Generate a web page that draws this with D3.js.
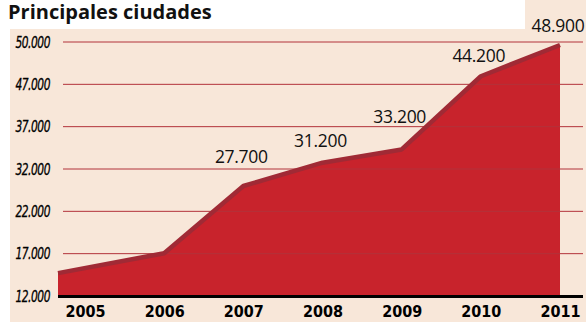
<!DOCTYPE html>
<html>
<head>
<meta charset="utf-8">
<script src="https://cdn.jsdelivr.net/npm/d3@7/dist/d3.min.js"></script>
<style>
  html, body { margin: 0; padding: 0; background: #ffffff; }
  svg { display: block; }
</style>
</head>
<body>
<script>
// Population of the main cities, 2005–2011
const years = ["2005", "2006", "2007", "2008", "2009", "2010", "2011"];
const values = [14600, 17600, 27700, 31200, 33200, 44200, 48900];
// Values that carry a printed label (2005 and 2006 are unlabeled)
const labeledYears = ["2007", "2008", "2009", "2010", "2011"];
// Printed y-axis labels, top to bottom
const tickLabels = ["50.000", "47.000", "37.000", "32.000", "22.000", "17.000", "12.000"];

const W = 586, H = 322;
const fmt = d3.format(",");
const esNum = v => fmt(v).replace(/,/g, ".");

const svg = d3.select("body").append("svg")
  .attr("width", W).attr("height", H);

// Panel background with a tab at the top right for the last label
const bg = "#f8e7d9";
svg.append("rect").attr("x", 10).attr("y", 29).attr("width", W - 10).attr("height", H - 29).attr("fill", bg);
svg.append("rect").attr("x", 525).attr("y", 0).attr("width", W - 525).attr("height", 30).attr("fill", bg);

// Title
svg.append("text")
  .attr("x", 8).attr("y", 19)
  .attr("font-family", "'Open Sans', sans-serif")
  .attr("font-weight", 700)
  .attr("font-size", 20)
  .attr("fill", "#111")
  .text("Principales ciudades");

const plotLeft = 58, plotRight = 583, plotTop = 42, plotBottom = 296;

// Scales
const x = d3.scalePoint().domain(years).range([85, 560]);
const y = d3.scaleLinear().domain([11160, 49350]).range([plotBottom, plotTop]);
const gridY = d3.scalePoint().domain(tickLabels).range([plotTop, plotBottom]);

const data = years.map((yr, i) => ({ year: yr, value: values[i] }));
// The series begins at the left edge of the plot
const px = (d, i) => i === 0 ? plotLeft : x(d.year);

// Filled area
svg.append("path")
  .datum(data)
  .attr("fill", "#c8232c")
  .attr("d", d3.area().x(px).y0(plotBottom).y1(d => y(d.value)));

// Gridlines
svg.append("g")
  .selectAll("line")
  .data(tickLabels)
  .join("line")
  .attr("x1", 63).attr("x2", plotRight)
  .attr("y1", d => gridY(d)).attr("y2", d => gridY(d))
  .attr("stroke", "#b2323a")
  .attr("stroke-width", 1);

// Top edge line
svg.append("path")
  .datum(data)
  .attr("fill", "none")
  .attr("stroke", "#a02a35")
  .attr("stroke-width", 4.5)
  .attr("stroke-linejoin", "round")
  .attr("d", d3.line().x(px).y(d => y(d.value)));

// Baseline
svg.append("line")
  .attr("x1", plotLeft).attr("x2", plotRight)
  .attr("y1", plotBottom + 0.5).attr("y2", plotBottom + 0.5)
  .attr("stroke", "#000").attr("stroke-width", 3);

// Y labels (condensed italic)
svg.append("g")
  .selectAll("text")
  .data(tickLabels)
  .join("text")
  .attr("transform", d => `translate(50,${gridY(d) + 5.5}) scale(0.74,1)`)
  .attr("text-anchor", "end")
  .attr("font-family", "'DejaVu Sans Condensed', 'Liberation Sans Narrow', sans-serif")
  .attr("font-style", "italic")
  .attr("font-size", 16)
  .attr("letter-spacing", -0.6)
  .attr("fill", "#000")
  .attr("stroke", "#000")
  .attr("stroke-width", 0.3)
  .text(d => d);

// X labels
const xAxis = svg.append("g")
  .attr("transform", `translate(0,${plotBottom + 2})`)
  .call(d3.axisBottom(x).tickSize(0).tickPadding(8));
xAxis.select(".domain").remove();
xAxis.selectAll("text")
  .attr("font-family", "'Liberation Sans Narrow', 'DejaVu Sans Condensed', sans-serif")
  .attr("font-weight", 700)
  .attr("font-size", 16)
  .attr("fill", "#000");

// Value labels, nudged clear of the line
const labelLift = { "2007": 23, "2008": 16, "2009": 26, "2010": 14, "2011": 13 };
svg.append("g")
  .selectAll("text")
  .data(data.filter(d => labeledYears.includes(d.year)))
  .join("text")
  .attr("x", d => x(d.year) - 2)
  .attr("y", d => y(d.value) - labelLift[d.year])
  .attr("text-anchor", "middle")
  .attr("font-family", "'Open Sans', sans-serif")
  .attr("font-size", 17.5)
  .attr("letter-spacing", -0.3)
  .attr("fill", "#111")
  .text(d => esNum(d.value));
</script>
</body>
</html>
